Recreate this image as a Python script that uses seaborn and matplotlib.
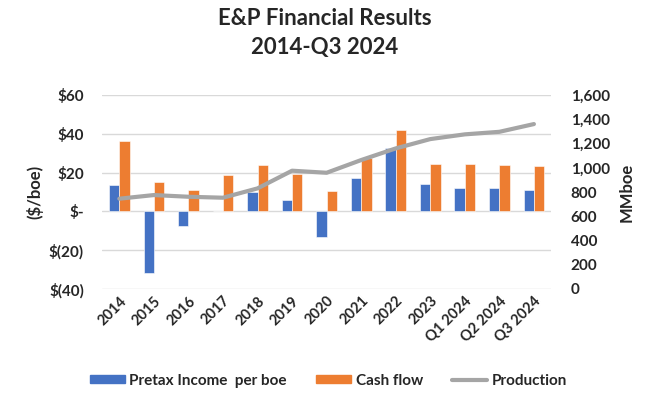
import numpy as np
import pandas as pd
import matplotlib
matplotlib.use("Agg")
import matplotlib.pyplot as plt
from matplotlib.patches import Patch
from matplotlib.lines import Line2D
from matplotlib.ticker import FixedLocator, FuncFormatter
import seaborn as sns

# values
periods = ["2014", "2015", "2016", "2017", "2018", "2019", "2020", "2021",
           "2022", "2023", "Q1 2024", "Q2 2024", "Q3 2024"]
pretax_income = [13.4, -31.9, -7.6, 0.0, 10.0, 5.7, -13.3, 17.4,
                 32.7, 14.1, 12.0, 12.0, 11.2]
cash_flow = [36.3, 15.1, 11.0, 18.6, 24.0, 19.5, 10.7, 27.7,
             42.2, 24.6, 24.6, 24.1, 23.6]
production = [745, 775, 761, 753, 830, 976, 959, 1064,
              1160, 1237, 1276, 1297, 1361]

blue = "#4472C4"
orange = "#ED7D31"
grey = "#A5A5A5"

sns.set_style("white")
plt.rcParams["font.family"] = ["Lato", "DejaVu Sans"]

df = pd.DataFrame({
    "period": periods * 2,
    "value": pretax_income + cash_flow,
    "series": ["Pretax Income  per boe"] * len(periods) + ["Cash flow"] * len(periods),
})

fig = plt.figure(figsize=(6.5, 4.03), dpi=100)
ax = fig.add_axes([0.157, 0.283, 0.691, 0.481])

sns.barplot(data=df, x="period", y="value", hue="series", order=periods,
            palette=[blue, orange], width=0.6, saturation=1, ax=ax, legend=False)
for p in ax.patches:
    p.set_edgecolor("white")
    p.set_linewidth(0.4)

ax.set_ylim(-40, 60)
ax.set_xlim(-0.5, len(periods) - 0.5)
ax.yaxis.set_major_locator(FixedLocator([-40, -20, 0, 20, 40, 60]))


def money(v, pos):
    if v == 0:
        return "$-"
    if v < 0:
        return "$(%d)" % abs(v)
    return "$%d" % v


ax.yaxis.set_major_formatter(FuncFormatter(money))
ax.grid(axis="y", color="#D9D9D9", linewidth=1)
ax.set_axisbelow(True)
for s in ax.spines.values():
    s.set_visible(False)
ax.set_xlabel("")
ax.set_ylabel("($/boe)", fontsize=12, fontweight="bold", labelpad=4)
ax.tick_params(axis="both", length=0, labelsize=11)
ax.tick_params(axis="y", pad=13)
for t in ax.get_yticklabels():
    t.set_fontweight("bold")
ax.set_xticks(range(len(periods)))
ax.set_xticklabels(periods, rotation=45, ha="right", rotation_mode="anchor",
                   fontweight="bold", fontsize=10.5)

ax2 = ax.twinx()
sns.lineplot(x=np.arange(len(periods)), y=production, color=grey,
             linewidth=3, ax=ax2)
ax2.set_ylim(0, 1600)
ax2.set_xlim(-0.5, len(periods) - 0.5)
ax2.yaxis.set_major_locator(FixedLocator(range(0, 1601, 200)))
ax2.yaxis.set_major_formatter(FuncFormatter(lambda v, p: "{:,.0f}".format(v)))
for s in ax2.spines.values():
    s.set_visible(False)
ax2.tick_params(axis="y", length=0, labelsize=11, pad=14)
for t in ax2.get_yticklabels():
    t.set_fontweight("bold")
ax2.set_ylabel("MMboe", fontsize=12, fontweight="bold", labelpad=6)

fig.suptitle("E&P Financial Results\n2014-Q3 2024", x=0.5, y=0.98,
             fontsize=16, fontweight="bold", linespacing=1.45)

handles = [Patch(color=blue), Patch(color=orange),
           Line2D([0], [0], color=grey, linewidth=3)]
labels = ["Pretax Income  per boe", "Cash flow", "Production"]
fig.legend(handles, labels, loc="center", bbox_to_anchor=(0.505, 0.055), ncol=3,
           frameon=False, prop={"size": 11, "weight": "bold"},
           handlelength=2.3, handleheight=0.45, columnspacing=1.9, handletextpad=0.3)

fig.savefig("out.png", dpi=100)
